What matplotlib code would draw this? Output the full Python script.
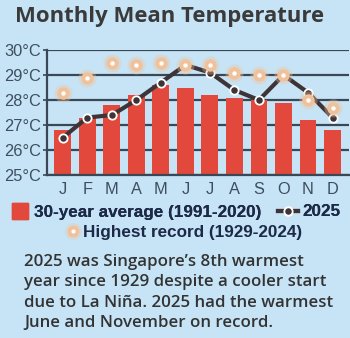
import numpy as np
import matplotlib
matplotlib.use('Agg')
import matplotlib.pyplot as plt
from matplotlib.lines import Line2D
from matplotlib.legend_handler import HandlerTuple

# Data
months = ['J', 'F', 'M', 'A', 'M', 'J', 'J', 'A', 'S', 'O', 'N', 'D']
avg_1991_2020 = [26.8, 27.3, 27.8, 28.2, 28.6, 28.5, 28.2, 28.1, 28.0, 27.9, 27.2, 26.8]
temp_2025 = [26.5, 27.3, 27.4, 28.0, 28.7, 29.4, 29.1, 28.4, 28.0, 29.0, 28.3, 27.3]
record_1929_2024 = [28.3, 28.9, 29.5, 29.4, 29.5, 29.4, 29.4, 29.1, 29.0, 29.0, 28.0, 27.7]
yticks = [25, 26, 27, 28, 29, 30]

bg = '#c6e4f6'
bar_c = '#e2483b'
line_c = '#3e3337'
rec_c = '#f0c29c'
grid_c = '#3a4856'
tick_c = '#3d4f5e'
legend_c = '#1c2947'
note_c = '#333333'

fig = plt.figure(figsize=(3.5, 3.38), dpi=100, facecolor=bg)
ax = fig.add_axes([0.134, 0.482, 0.863, 0.370])
ax.set_facecolor(bg)

x = np.arange(len(months))
ax.bar(x, [v - 25 for v in avg_1991_2020], bottom=25, width=0.69, color=bar_c, zorder=2)
ax.plot(x, temp_2025, color=line_c, lw=3, zorder=3,
        marker='o', ms=6, mfc=line_c, mec='white', mew=1.3)
ax.scatter(x, record_1929_2024, s=170, color=rec_c, alpha=0.35, lw=0, zorder=4)
ax.scatter(x, record_1929_2024, s=80, color=rec_c, lw=0, zorder=5)
ax.scatter(x, record_1929_2024, s=10, color='white', lw=0, zorder=6)

ax.set_xlim(-0.65, 11.67)
ax.set_ylim(25, 30)
ax.set_yticks(yticks)
ax.set_yticklabels([f'{t}°C' for t in yticks])
ax.set_xticks(x)
ax.set_xticklabels(months)
ax.yaxis.grid(True, color=grid_c, lw=1.6, zorder=1)
ax.set_axisbelow(True)
for s in ['top', 'right']:
    ax.spines[s].set_visible(False)
for s in ['left', 'bottom']:
    ax.spines[s].set_color(grid_c)
    ax.spines[s].set_linewidth(1.6)
ax.tick_params(axis='y', length=3, width=1.2, color=grid_c, pad=1,
               labelsize=11.8, labelcolor=tick_c)
ax.tick_params(axis='x', length=0, pad=5, labelsize=11.8, labelcolor=tick_c)
for lab in ax.get_xticklabels() + ax.get_yticklabels():
    lab.set_family('Liberation Sans')

fig.text(0.043, 0.95, 'Monthly Mean Temperature', fontsize=15.9, fontweight='bold',
         family='Open Sans', color='#3a3a3a', va='center', ha='left')

# Legend
h_bar = Line2D([], [], ls='none', marker='s', ms=11.5, mfc=bar_c, mec=bar_c)
h_line = Line2D([], [], color=line_c, lw=3, marker='o', ms=6, mfc=line_c,
                mec='white', mew=1.3)
h_glow = Line2D([], [], ls='none', marker='o', ms=12, mfc=rec_c, mec='none', alpha=0.35)
h_rec = Line2D([], [], ls='none', marker='o', ms=8.5, mfc=rec_c, mec='none')
h_dot = Line2D([], [], ls='none', marker='o', ms=3, mfc='white', mec='none')
lfont = {'family': 'Liberation Sans', 'weight': 'bold', 'size': 12.3}

leg1 = fig.legend([h_bar, h_line], ['30-year average (1991-2020)', '2025'],
                  loc='center', bbox_to_anchor=(0.5, 1 - 212 / 338), ncol=2,
                  frameon=False, prop=lfont, handlelength=1.15, handletextpad=0.25,
                  columnspacing=1.0, borderpad=0, borderaxespad=0)
leg2 = fig.legend([(h_glow, h_rec, h_dot)], ['Highest record (1929-2024)'],
                  handler_map={tuple: HandlerTuple(ndivide=1)},
                  loc='center', bbox_to_anchor=(0.527, 1 - 232 / 338), ncol=1,
                  frameon=False, prop=lfont, handlelength=0.7, handletextpad=0.25,
                  borderpad=0, borderaxespad=0)
fig.add_artist(leg1)
for leg in (leg1, leg2):
    for t in leg.get_texts():
        t.set_color(legend_c)

note = ("2025 was Singapore\u2019s 8th warmest\n"
        "year since 1929 despite a cooler start\n"
        "due to La Ni\u00f1a. 2025 had the warmest\n"
        "June and November on record.")
fig.text(0.069, 1 - 254 / 338, note, fontsize=12.2, fontweight='semibold',
         family='Open Sans', color=note_c, va='top', ha='left', linespacing=1.36)

fig.savefig('out.png', dpi=100, facecolor=bg)
